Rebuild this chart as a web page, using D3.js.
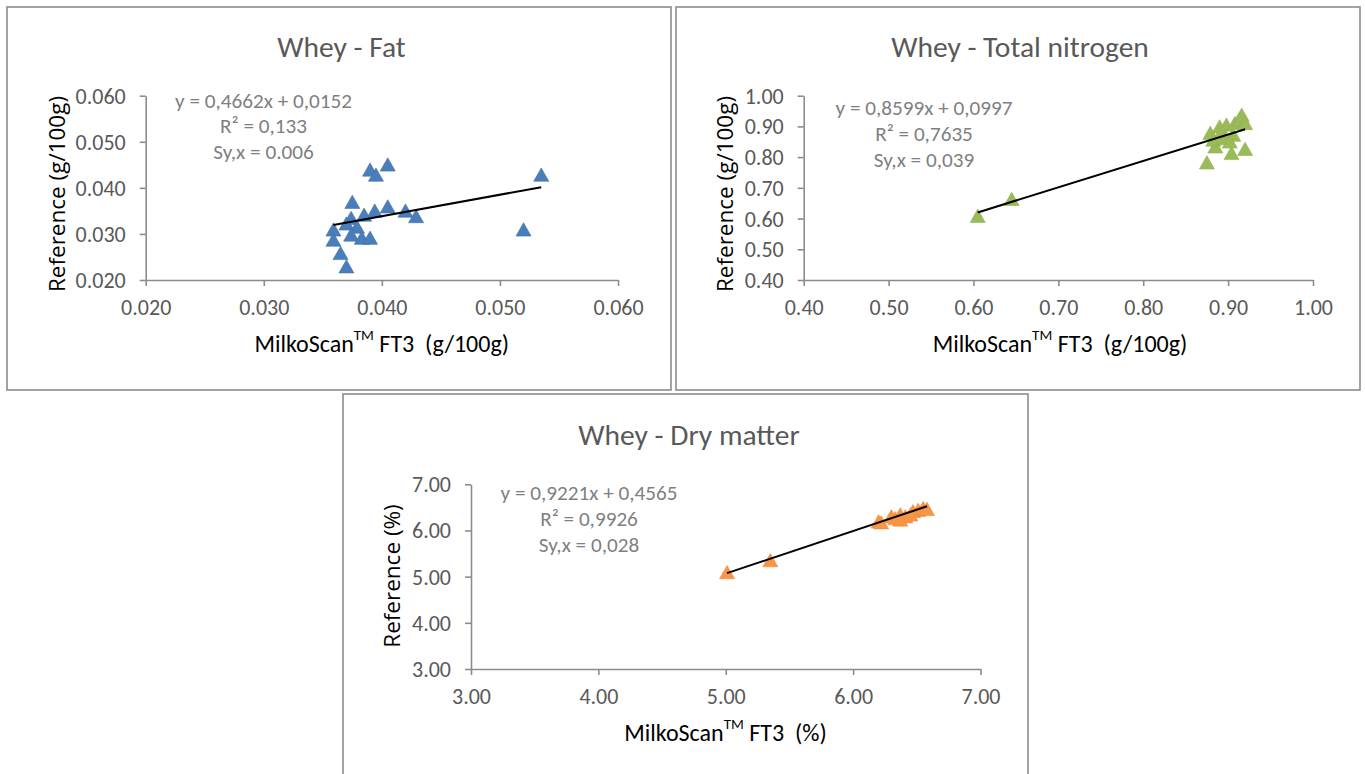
<!DOCTYPE html>
<html><head><meta charset="utf-8">
<script src="https://cdn.jsdelivr.net/npm/d3@7"></script>
<style>
html,body{margin:0;padding:0;background:#fff;}
svg{display:block;}
</style></head>
<body>
<svg id="chart" width="1365" height="774"></svg>
<script>
// ---------- DATA ----------
const fatTitle = "Whey - Fat";
const fatX = [0.0535,0.0520,0.0405,0.0390,0.0395,0.0375,0.0405,0.0394,0.0420,0.0429,0.0385,0.0374,0.0370,0.0359,0.0379,0.0374,0.0383,0.0390,0.0359,0.0365,0.0370];
const fatY = [0.0428,0.0309,0.0450,0.0439,0.0428,0.0369,0.0359,0.0350,0.0350,0.0338,0.0341,0.0334,0.0322,0.0309,0.0315,0.0298,0.0291,0.0291,0.0287,0.0258,0.0229];
const fatFit = [0.4662, 0.0152];
const fatTicks = [0.020, 0.030, 0.040, 0.050, 0.060];
const fatTickLabels = ["0.020","0.030","0.040","0.050","0.060"];
const fatStats = ["y = 0,4662x + 0,0152", "R² = 0,133", "Sy,x = 0.006"];

const tnTitle = "Whey - Total nitrogen";
const tnX = [0.605,0.645,0.875,0.920,0.904,0.885,0.879,0.890,0.898,0.906,0.908,0.916,0.913,0.8825,0.894,0.902,0.8925,0.920];
const tnY = [0.608,0.663,0.782,0.826,0.8125,0.834,0.878,0.899,0.905,0.872,0.910,0.937,0.921,0.856,0.861,0.850,0.883,0.910];
const tnFit = [0.8599, 0.0997];
const tnXTicks = [0.40,0.50,0.60,0.70,0.80,0.90,1.00];
const tnYTicks = [0.40,0.50,0.60,0.70,0.80,0.90,1.00];
const tnTickLabels = ["0.40","0.50","0.60","0.70","0.80","0.90","1.00"];
const tnStats = ["y = 0,8599x + 0,0997", "R² = 0,7635", "Sy,x = 0,039"];

const dmTitle = "Whey - Dry matter";
const dmX = [5.01,5.35,6.20,6.30,6.37,6.33,6.41,6.47,6.51,6.55,6.58,6.45,6.37,6.22];
const dmY = [5.09,5.35,6.19,6.30,6.34,6.26,6.30,6.41,6.44,6.48,6.46,6.34,6.23,6.17];
const dmFit = [0.9221, 0.4565];
const dmTicks = [3,4,5,6,7];
const dmTickLabels = ["3.00","4.00","5.00","6.00","7.00"];
const dmStats = ["y = 0,9221x + 0,4565", "R² = 0,9926", "Sy,x = 0,028"];

const yTitleGram = "Reference (g/100g)";
const yTitlePct = "Reference (%)";
const xUnitGram = "(g/100g)";
const xUnitPct = "(%)";

// ---------- LAYOUT ----------
const FONT = "Carlito, Calibri, Lato, sans-serif";
const svg = d3.select("#chart");

const panels = [
  { box:[7,7,664,383], plot:[145.7,618,95.7,280], title:[341.5,46.7], stats:[263.5,100.7],
    xTitle:[381.7,343.3], yTitle:[56.4,194], name:fatTitle, xs:fatX, ys:fatY, fit:fatFit,
    xTicks:fatTicks, yTicks:fatTicks, xLab:fatTickLabels, yLab:fatTickLabels,
    statLines:fatStats, yT:yTitleGram, xU:xUnitGram, color:"#4a7ebb", stroke:"#3f6fa8" },
  { box:[676,7,684,383], plot:[803.7,1313,95.7,280], title:[1020,46.7], stats:[924,108.3],
    xTitle:[1060,343.3], yTitle:[724,194], name:tnTitle, xs:tnX, ys:tnY, fit:tnFit,
    xTicks:tnXTicks, yTicks:tnYTicks, xLab:tnTickLabels, yLab:tnTickLabels,
    statLines:tnStats, yT:yTitleGram, xU:xUnitGram, color:"#9bbb59", stroke:"#8fb04f" },
  { box:[343,394,685,392], plot:[471,980.5,484.3,669], title:[689,435], stats:[589,493.3],
    xTitle:[725.5,731.7], yTitle:[391,576], name:dmTitle, xs:dmX, ys:dmY, fit:dmFit,
    xTicks:dmTicks, yTicks:dmTicks, xLab:dmTickLabels, yLab:dmTickLabels,
    statLines:dmStats, yT:yTitlePct, xU:xUnitPct, color:"#f79646", stroke:"#ef8c3c" }
];

function drawPanel(p){
  const g = svg.append("g");
  g.append("rect").attr("x",p.box[0]).attr("y",p.box[1]).attr("width",p.box[2]).attr("height",p.box[3])
    .attr("fill","#fff").attr("stroke","#8c8c8c").attr("stroke-width",1.6);

  const x = d3.scaleLinear().domain([p.xTicks[0], p.xTicks[p.xTicks.length-1]]).range([p.plot[0], p.plot[1]]);
  const y = d3.scaleLinear().domain([p.yTicks[0], p.yTicks[p.yTicks.length-1]]).range([p.plot[3], p.plot[2]]);

  // axes
  const xAxis = d3.axisBottom(x).tickValues(p.xTicks).tickSize(6).tickSizeOuter(0)
    .tickFormat((d,i)=>p.xLab[i]);
  const yAxis = d3.axisLeft(y).tickValues(p.yTicks).tickSize(6).tickSizeOuter(0)
    .tickFormat((d,i)=>p.yLab[i]);
  const gx = g.append("g").attr("transform",`translate(0,${p.plot[3]})`).call(xAxis);
  const gy = g.append("g").attr("transform",`translate(${p.plot[0]},0)`).call(yAxis);
  [gx,gy].forEach(a=>{
    a.select(".domain").attr("stroke","#8c8c8c").attr("stroke-width",1.6);
    a.selectAll(".tick line").attr("stroke","#8c8c8c").attr("stroke-width",1.6);
    a.selectAll(".tick text").attr("fill","#595959").style("font-family",FONT).style("font-size","22px");
  });
  gx.selectAll(".tick text").attr("y",0).attr("dy",0).attr("dominant-baseline","central")
    .attr("transform","translate(0,27)");
  gy.selectAll(".tick text").attr("x",-20).attr("dy",0).attr("dominant-baseline","central");

  const xmin = d3.min(p.xs), xmax = d3.max(p.xs);

  // markers
  const tri = "M0,-7L7.5,6.3L-7.5,6.3Z";
  g.append("g").selectAll("path").data(p.xs.map((v,i)=>[v,p.ys[i]])).join("path")
    .attr("d",tri).attr("transform",d=>`translate(${x(d[0])},${y(d[1])})`)
    .attr("fill",p.color).attr("stroke",p.stroke).attr("stroke-width",0.6);

  // trend line on top of markers
  g.append("line")
    .attr("x1",x(xmin)).attr("y1",y(p.fit[0]*xmin+p.fit[1]))
    .attr("x2",x(xmax)).attr("y2",y(p.fit[0]*xmax+p.fit[1]))
    .attr("stroke","#000").attr("stroke-width",2);

  // title
  g.append("text").attr("x",p.title[0]).attr("y",p.title[1]).attr("text-anchor","middle")
    .attr("dominant-baseline","central").attr("fill","#595959")
    .style("font-family",FONT).style("font-size","29.5px").text(p.name);

  // stats
  p.statLines.forEach((s,i)=>{
    g.append("text").attr("x",p.stats[0]).attr("y",p.stats[1]+i*25.7).attr("text-anchor","middle")
      .attr("dominant-baseline","central").attr("fill","#7f7f7f")
      .style("font-family",FONT).style("font-size","21.2px").text(s);
  });

  // x title
  const xt = g.append("text").attr("x",p.xTitle[0]).attr("y",p.xTitle[1]).attr("text-anchor","middle")
    .attr("dominant-baseline","central").attr("fill","#000")
    .style("font-family",FONT).style("font-size","24px");
  xt.append("tspan").text("MilkoScan");
  xt.append("tspan").attr("dy",-8).style("font-size","15px").text("TM");
  xt.append("tspan").attr("dy",8).text("\u00a0FT3\u00a0\u00a0" + p.xU);

  // y title
  g.append("text").attr("transform",`translate(${p.yTitle[0]},${p.yTitle[1]}) rotate(-90)`)
    .attr("text-anchor","middle").attr("dominant-baseline","central").attr("fill","#000")
    .style("font-family","'Open Sans', sans-serif").style("font-size","22.5px").text(p.yT);
}
panels.forEach(drawPanel);
</script>
</body></html>
